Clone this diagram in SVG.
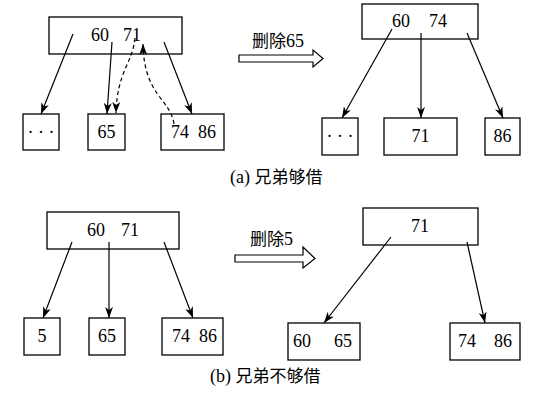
<svg xmlns="http://www.w3.org/2000/svg" width="541" height="405" viewBox="0 0 541 405">
<defs>
<marker id="ah" markerWidth="12" markerHeight="8" refX="11" refY="4" orient="auto" markerUnits="userSpaceOnUse">
<path d="M0,0 L11,4 L0,8 L3,4 z" fill="#000"/>
</marker>
</defs>
<style>
.box{fill:#fff;stroke:#000;stroke-width:1.3}
.t{font-family:'Liberation Serif','Times New Roman',serif;font-size:18px;fill:#000}
.c{font-family:'Liberation Serif','Noto Sans CJK SC',serif;font-size:17px;fill:#000}
.e{stroke:#000;stroke-width:1.2;fill:none;marker-end:url(#ah)}
.d{stroke:#000;stroke-width:1.2;fill:none;stroke-dasharray:4,3;marker-end:url(#ah)}
.big{fill:#fff;stroke:#000;stroke-width:1.2}
</style>
<rect width="541" height="405" fill="#fff"/>

<g id="a-root"><rect class="box" x="49" y="17" width="133" height="37"/><text class="t" x="91" y="41">60</text><text class="t" x="123" y="41">71</text></g>
<g id="a-c1"><rect class="box" x="23" y="114" width="36" height="36"/><text class="t" x="41" y="138" text-anchor="middle">· · ·</text></g>
<g id="a-c2"><rect class="box" x="88" y="114" width="37" height="36"/><text class="t" x="106.5" y="138" text-anchor="middle">65</text></g>
<g id="a-c3"><rect class="box" x="161" y="114" width="63" height="36"/><text class="t" x="171" y="138">74</text><text class="t" x="198" y="138">86</text></g>

<g id="a-op"><text class="c" x="252" y="47">删除<tspan class="t" font-size="17px">65</tspan></text><polygon class="big" points="239,55 313,55 313,50 323,58.5 313,67 313,62 239,62"/></g>

<g id="a2-root"><rect class="box" x="362" y="4" width="116" height="35"/><text class="t" x="392" y="27">60</text><text class="t" x="429" y="27">74</text></g>
<g id="a2-c1"><rect class="box" x="322" y="118" width="36" height="37"/><text class="t" x="340" y="142" text-anchor="middle">· · ·</text></g>
<g id="a2-c2"><rect class="box" x="384" y="118" width="73" height="37"/><text class="t" x="420.5" y="142" text-anchor="middle">71</text></g>
<g id="a2-c3"><rect class="box" x="485" y="118" width="35" height="37"/><text class="t" x="502.5" y="142" text-anchor="middle">86</text></g>

<g id="cap-a"><text class="c" x="230" y="183"><tspan class="t" font-size="17px">(a) </tspan>兄弟够借</text></g>

<g id="b-root"><rect class="box" x="47" y="212" width="132" height="37"/><text class="t" x="87" y="236">60</text><text class="t" x="121" y="236">71</text></g>
<g id="b-c1"><rect class="box" x="24" y="318" width="36" height="37"/><text class="t" x="42" y="342" text-anchor="middle">5</text></g>
<g id="b-c2"><rect class="box" x="89" y="318" width="36" height="37"/><text class="t" x="107" y="342" text-anchor="middle">65</text></g>
<g id="b-c3"><rect class="box" x="162" y="318" width="61" height="37"/><text class="t" x="172" y="342">74</text><text class="t" x="199" y="342">86</text></g>

<g id="b-op"><text class="c" x="250" y="245">删除<tspan class="t" font-size="17px">5</tspan></text><polygon class="big" points="235,255 303,255 303,247 315,258.5 303,268 303,262 235,262"/></g>

<g id="b2-root"><rect class="box" x="363" y="208" width="115" height="37"/><text class="t" x="420" y="232" text-anchor="middle">71</text></g>
<g id="b2-c1"><rect class="box" x="288" y="323" width="72" height="37"/><text class="t" x="293" y="347">60</text><text class="t" x="334" y="347">65</text></g>
<g id="b2-c2"><rect class="box" x="450" y="323" width="70" height="37"/><text class="t" x="458" y="347">74</text><text class="t" x="494" y="347">86</text></g>

<g id="cap-b"><text class="c" x="210" y="382"><tspan class="t" font-size="17px">(b) </tspan>兄弟不够借</text></g>

<g id="connectors">
<line class="e" x1="73" y1="34" x2="41" y2="114"/>
<line class="e" x1="112" y1="42" x2="107" y2="114"/>
<line class="e" x1="164" y1="42" x2="192" y2="114"/>
<path class="d" d="M135,38 C133,62 117,72 116,113"/>
<path class="d" d="M174,124 C170,98 144,96 143,44"/>
<line class="e" x1="392" y1="29" x2="342" y2="118"/>
<line class="e" x1="421" y1="33" x2="421" y2="118"/>
<line class="e" x1="467" y1="33" x2="503" y2="118"/>
<line class="e" x1="72" y1="242" x2="43" y2="318"/>
<line class="e" x1="109" y1="242" x2="109" y2="318"/>
<line class="e" x1="164" y1="242" x2="193" y2="318"/>
<line class="e" x1="391" y1="237" x2="324" y2="323"/>
<line class="e" x1="467" y1="242" x2="485" y2="323"/>
</g>
</svg>
